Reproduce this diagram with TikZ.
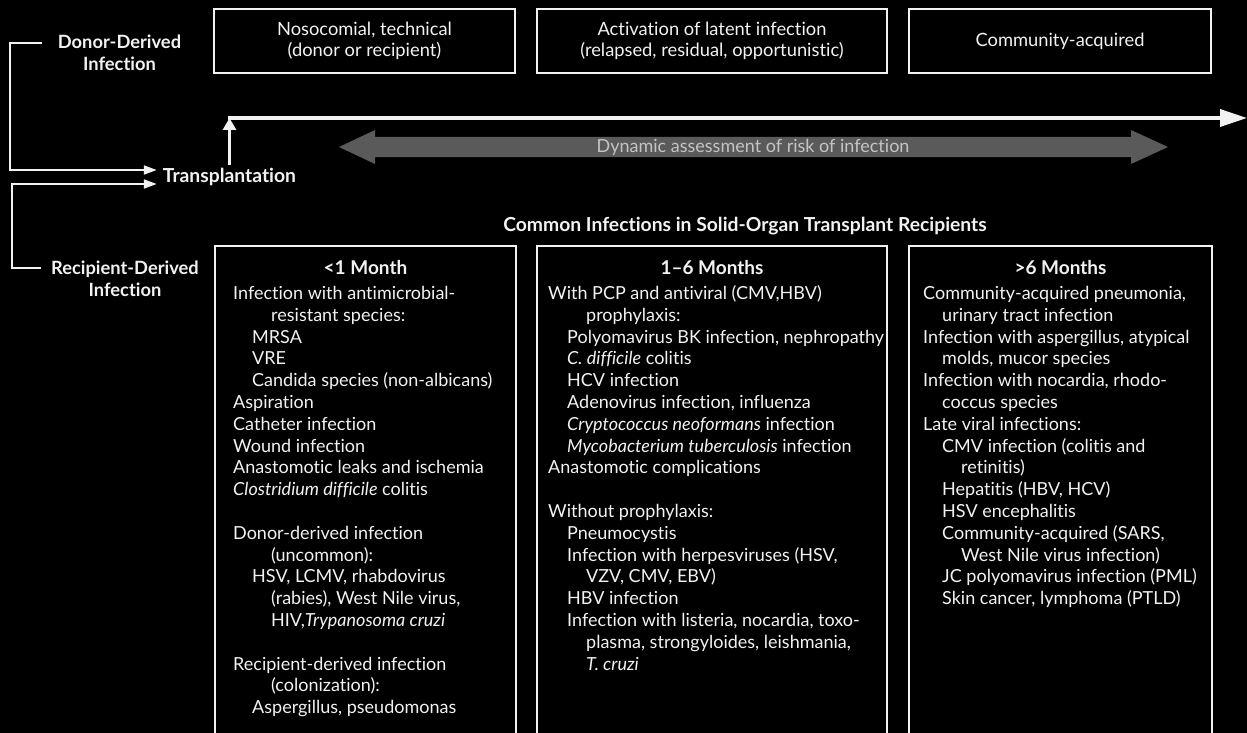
\documentclass[tikz,border=0pt]{standalone}
\usepackage{fontspec}
\setmainfont{Lato}[Ligatures={TeX,NoCommon}]
\usetikzlibrary{arrows.meta,calc}
\definecolor{fg}{HTML}{F2F2F2}
\definecolor{band}{HTML}{5A5A5A}
\definecolor{bandtext}{HTML}{C4C4C4}
\begin{document}
\begin{tikzpicture}[x=1pt,y=-1pt,
  every node/.style={text=fg},
  boxline/.style={draw=fg,line width=2pt},
  topbox/.style={boxline,minimum height=64pt,align=center,inner sep=2pt,font=\fontsize{18.3}{21}\selectfont},
  colbox/.style={boxline,minimum height=540pt,anchor=north},
  colhead/.style={font=\fontsize{19}{22}\selectfont\bfseries},
  body/.style={anchor=north west,inner sep=0pt,align=left,font=\fontsize{18}{21.8}\selectfont},
  side/.style={align=center,font=\fontsize{18.3}{21.5}\selectfont\bfseries,inner sep=2pt},
  conn/.style={draw=fg,line width=2pt},
  smallarr/.style={conn,-{Triangle[length=13pt,width=9pt]}},
]
\useasboundingbox (0,0) rectangle (1247,733);
\fill[black] (0,0) rectangle (1247,733);
\clip (0,0) rectangle (1247,733);

% top category boxes
\node[topbox,minimum width=301pt] (nos) at (364.5,41) {Nosocomial, technical\\(donor or recipient)};
\node[topbox,minimum width=350pt] (act) at (712,41) {Activation of latent infection\\(relapsed, residual, opportunistic)};
\node[topbox,minimum width=302pt] (com) at (1060,41) {Community-acquired};

% side labels
\node[side] (dd) at (119.5,53) {Donor-Derived\\Infection};
\node[side] (rd) at (125,279) {Recipient-Derived\\Infection};
\node[side,font=\fontsize{19.3}{22}\selectfont\bfseries,inner sep=3pt] (tp) at (229.5,177) {Transplantation};

\coordinate (dk) at (10,43);
\coordinate (rk) at (12,268);
\draw[smallarr] ([xshift=-14pt]dd.west |- dk) -- (dk) |- ([xshift=-3pt,yshift=7pt]tp.west);
\draw[smallarr] ([xshift=-8pt]rd.west |- rk) -- (rk) |- ([xshift=-3pt,yshift=-7pt]tp.west);

% timeline
\coordinate (t0) at (229,118);
\coordinate (t1) at (1247,118);
\draw[draw=fg,line width=3pt,-{Triangle[length=12pt,width=13pt]}] (tp.north) -- (tp.north |- t0);
\draw[draw=fg,line width=3.5pt,-{Triangle[length=27pt,width=17pt]}] ([xshift=-1.5pt]t0) -- (t1);

% dynamic assessment band
\fill[band] (339,147) -- (375,130) -- (375,137) -- (1131,137) -- (1131,130) -- (1168,147)
  -- (1131,164) -- (1131,157) -- (375,157) -- (375,164) -- cycle;
\node[text=bandtext,font=\fontsize{18}{20}\selectfont] (dyn) at (753,147) {Dynamic assessment of risk of infection};

% title
\node[font=\fontsize{19.3}{22}\selectfont\bfseries] (title) at (745,226) {Common Infections in Solid-Organ Transplant Recipients};

% column boxes
\node[colbox,minimum width=301pt] (c1) at (365.5,245) {};
\node[colbox,minimum width=350pt] (c2) at (712,245) {};
\node[colbox,minimum width=303pt] (c3) at (1060.5,245) {};

\node[colhead] (h1) at ([yshift=-23pt]c1.north) {<1 Month};
\node[colhead] (h2) at ([yshift=-23pt]c2.north) {1\textendash6 Months};
\node[colhead] (h3) at ([yshift=-23pt]c3.north) {>6 Months};

\def\ia{\hspace*{19pt}}
\def\ib{\hspace*{38pt}}

\node[body] (b1) at (233,284) {\strut Infection with antimicrobial-\\
\ib resistant species:\\
\ia MRSA\\
\ia VRE\\
\ia Candida species (non-albicans)\\
Aspiration\\
Catheter infection\\
Wound infection\\
Anastomotic leaks and ischemia\\
\textit{Clostridium difficile} colitis\\[21.8pt]
Donor-derived infection\\
\ib (uncommon):\\
\ia HSV, LCMV, rhabdovirus\\
\ib (rabies), West Nile virus,\\
\ib HIV,\textit{Trypanosoma cruzi}\\[21.8pt]
Recipient-derived infection\\
\ib (colonization):\\
\ia Aspergillus, pseudomonas};

\node[body] (b2) at (548,284) {\strut With PCP and antiviral (CMV,HBV)\\
\ib prophylaxis:\\
\ia Polyomavirus BK infection, nephropathy\\
\ia \textit{C. difficile} colitis\\
\ia HCV infection\\
\ia Adenovirus infection, influenza\\
\ia \textit{Cryptococcus neoformans} infection\\
\ia \textit{Mycobacterium tuberculosis} infection\\
Anastomotic complications\\[21.8pt]
Without prophylaxis:\\
\ia Pneumocystis\\
\ia Infection with herpesviruses (HSV,\\
\ib VZV, CMV, EBV)\\
\ia HBV infection\\
\ia Infection with listeria, nocardia, toxo-\\
\ib plasma, strongyloides, leishmania,\\
\ib \textit{T. cruzi}};

\node[body] (b3) at (923,284) {\strut Community-acquired pneumonia,\\
\ia urinary tract infection\\
Infection with aspergillus, atypical\\
\ia molds, mucor species\\
Infection with nocardia, rhodo-\\
\ia coccus species\\
Late viral infections:\\
\ia CMV infection (colitis and\\
\ib retinitis)\\
\ia Hepatitis (HBV, HCV)\\
\ia HSV encephalitis\\
\ia Community-acquired (SARS,\\
\ib West Nile virus infection)\\
\ia JC polyomavirus infection (PML)\\
\ia Skin cancer, lymphoma (PTLD)};
\end{tikzpicture}
\end{document}
